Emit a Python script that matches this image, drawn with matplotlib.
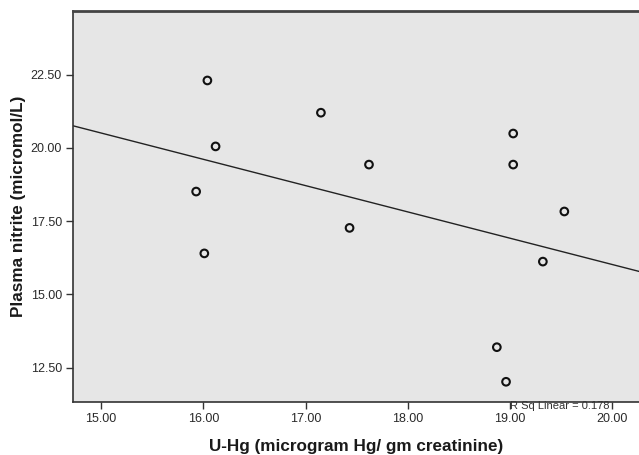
import numpy as np
import matplotlib
matplotlib.use('Agg')
import matplotlib.pyplot as plt

plt.rcParams['font.family'] = ['Liberation Sans', 'DejaVu Sans']

# -------------------------
# Data
# -------------------------
u_hg = [16.04, 16.12, 15.93, 16.01, 17.15, 17.62, 17.43,
        19.03, 19.03, 19.53, 19.32, 18.87, 18.96]
nitrite = [22.30, 20.05, 18.51, 16.40, 21.20, 19.43, 17.27,
           20.49, 19.43, 17.83, 16.12, 13.20, 12.02]
x_ticks = [15, 16, 17, 18, 19, 20]
y_ticks = [12.5, 15.0, 17.5, 20.0, 22.5]
r_sq_label = 'R Sq Linear = 0.178'

x = np.array(u_hg)
y = np.array(nitrite)

fig = plt.figure(figsize=(6.39, 4.55), dpi=100)
ax = fig.add_axes([73 / 639, 1 - 402 / 455, 566 / 639, 391 / 455])
ax.set_facecolor('#e6e6e6')

xlim = (14.726, 20.26)
ylim = (11.33, 24.67)

# fit line across the whole axis
slope, intercept = np.polyfit(x, y, 1)
xs = np.array(xlim)
ax.plot(xs, slope * xs + intercept, color='#222222', lw=1.0, zorder=2)

ax.scatter(x, y, s=30, facecolors='none', edgecolors='#111111',
           linewidths=1.5, zorder=3)

ax.set_xlim(*xlim)
ax.set_ylim(*ylim)
ax.set_xticks(x_ticks)
ax.set_xticklabels(['%.2f' % v for v in x_ticks])
ax.set_yticks(y_ticks)
ax.set_yticklabels(['%.2f' % v for v in y_ticks])
ax.tick_params(direction='out', length=5, width=1, color='#333333',
               labelsize=9, labelcolor='#2a2a2a', pad=3)

for side in ['left', 'bottom']:
    ax.spines[side].set_color('#333333')
    ax.spines[side].set_linewidth(1.2)
ax.spines['top'].set_color('#444444')
ax.spines['top'].set_linewidth(2)
ax.spines['right'].set_visible(False)

ax.set_xlabel('U-Hg (microgram Hg/ gm creatinine)', fontsize=12.3,
              fontweight='bold', color='#1a1a1a', labelpad=10)
ax.set_ylabel('Plasma nitrite (micromol/L)', fontsize=12.3,
              fontweight='bold', color='#1a1a1a', labelpad=3)

ax.text(19.0, 11.2, r_sq_label, fontsize=8, color='#333333',
        ha='left', va='center', clip_on=False, zorder=4)

fig.savefig('out.png', dpi=100)
plt.close(fig)
